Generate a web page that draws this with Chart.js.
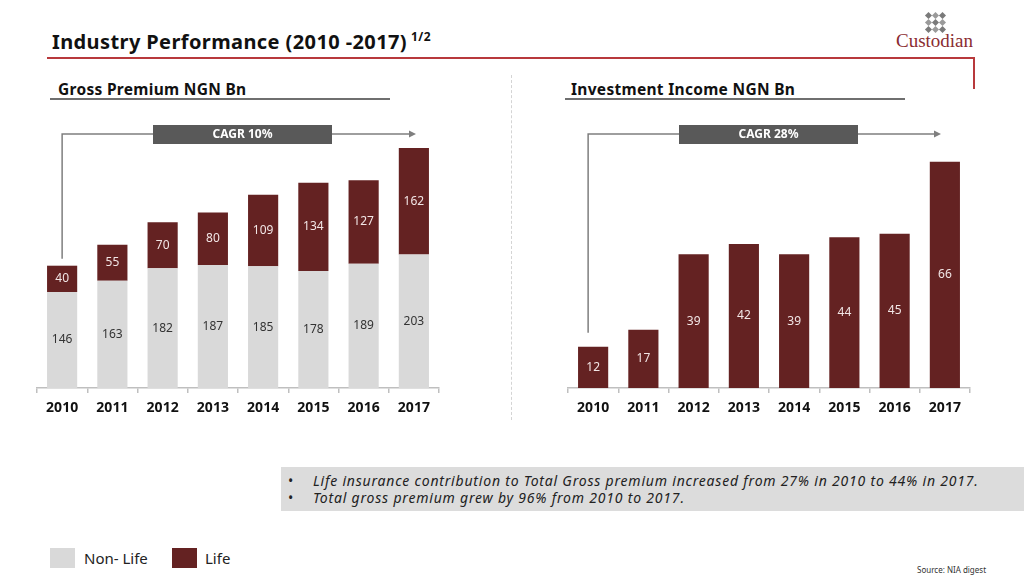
<!DOCTYPE html>
<html>
<head>
<meta charset="utf-8">
<script src="https://cdn.jsdelivr.net/npm/chart.js@4"></script>
<style>
  body { margin: 0; width: 1024px; height: 578px; overflow: hidden; background: #fff; font-family: "Noto Sans", sans-serif; position: relative; }
  .abs { position: absolute; }
  #title { left: 52px; top: 28px; font-size: 20px; font-weight: 700; color: #111; white-space: nowrap; letter-spacing: 0.4px; }
  #title sup { font-size: 12px; vertical-align: 8px; margin-left: 4px; }
  #redH { left: 47px; top: 57px; width: 928px; height: 2px; background: #b8393c; }
  #redV { left: 973px; top: 57px; width: 2px; height: 32px; background: #b8393c; }
  .sub { font-size: 15.5px; font-weight: 700; color: #111; white-space: nowrap; letter-spacing: 0.3px; }
  .subline { height: 0; border-top: 2px solid #6f6f6f; }
  #sep { left: 511px; top: 75px; height: 345px; border-left: 1px dashed #d4d4d4; }
  canvas { position: absolute; }
  #notes { left: 281px; top: 467px; width: 743px; height: 44px; background: #dcdcdc; }
  #notes div { position: absolute; left: 7px; font-size: 14px; font-style: italic; color: #222; white-space: nowrap; letter-spacing: 0.8px; }
  #notes span { display: inline-block; width: 25px; font-style: normal; letter-spacing: 0; }
  .sw { width: 25px; height: 20px; }
  .lg { font-size: 15px; color: #222; }
  #src { left: 917px; top: 564px; font-size: 8px; color: #333; }
  #logo { left: 896px; top: 30px; font-family: "Liberation Serif", serif; font-size: 19px; color: #8a2c31; }
  .dot { position: absolute; width: 5px; height: 5px; background: #7a7a7a; transform: rotate(45deg); }
</style>
</head>
<body>
<div id="title" class="abs">Industry Performance (2010 -2017)<sup>1/2</sup></div>
<div id="redH" class="abs"></div>
<div id="redV" class="abs"></div>

<div id="logoMark" class="abs" style="left:925px;top:12px;width:22px;height:22px;"></div>
<div id="logo" class="abs">Custodian</div>

<div class="abs sub" style="left:58px;top:78px;">Gross Premium NGN Bn</div>
<div class="abs subline" style="left:50px;top:98px;width:340px;"></div>
<div class="abs sub" style="left:571px;top:78px;">Investment Income NGN Bn</div>
<div class="abs subline" style="left:565px;top:98px;width:340px;"></div>
<div id="sep" class="abs"></div>

<canvas id="gp" width="512" height="330" style="left:0;top:100px;width:512px;height:330px;"></canvas>
<canvas id="ii" width="512" height="330" style="left:512px;top:100px;width:512px;height:330px;"></canvas>

<div id="notes" class="abs">
  <div style="top:4px;"><span>•</span>Life insurance contribution to Total Gross premium increased from 27% in 2010 to 44% in 2017.</div>
  <div style="top:21px;"><span>•</span>Total gross premium grew by 96% from 2010 to 2017.</div>
</div>

<div class="abs sw" style="left:50px;top:548px;background:#d9d9d9;"></div>
<div class="abs lg" style="left:84px;top:548px;">Non- Life</div>
<div class="abs sw" style="left:172px;top:548px;background:#642222;"></div>
<div class="abs lg" style="left:205px;top:548px;">Life</div>
<div id="src" class="abs">Source: NIA digest</div>

<script>
// data
const years = ["2010", "2011", "2012", "2013", "2014", "2015", "2016", "2017"];
const nonLife = [146, 163, 182, 187, 185, 178, 189, 203];
const life = [40, 55, 70, 80, 109, 134, 127, 162];
const investIncome = [12, 17, 39, 42, 39, 44, 45, 66];

const MAROON = "#642222";
const LIGHT = "#d9d9d9";

// logo mark
const mark = document.getElementById("logoMark");
[[0,0],[0,2],[1,1],[2,0],[2,2],[0,1],[1,0],[1,2],[2,1]].forEach(([r, c]) => {
  const d = document.createElement("div");
  d.className = "dot";
  d.style.left = (c * 7 + 1) + "px";
  d.style.top = (r * 7 + 1) + "px";
  if ((r + c) % 2 == 1) d.style.background = "#9a9a9a";
  mark.appendChild(d);
});

// numbers inside the bars
const barLabels = {
  id: "barLabels",
  afterDatasetsDraw(chart) {
    const ctx = chart.ctx;
    ctx.save();
    ctx.font = "12px 'Noto Sans'";
    ctx.textAlign = "center";
    ctx.textBaseline = "middle";
    chart.data.datasets.forEach((ds, i) => {
      const meta = chart.getDatasetMeta(i);
      ctx.fillStyle = ds.labelColor;
      meta.data.forEach((bar, j) => {
        ctx.fillText(ds.data[j], bar.x, (bar.y + bar.base) / 2);
      });
    });
    ctx.restore();
  }
};

// CAGR arrow + box
const cagrArrow = {
  id: "cagrArrow",
  afterDraw(chart, args, o) {
    const ctx = chart.ctx;
    const metas = chart.getSortedVisibleDatasetMetas();
    const first = metas[metas.length - 1].data[0];
    const x0 = first.x + (o.dx || 0);
    const y0 = first.y - o.gap;
    ctx.save();
    ctx.strokeStyle = "#7f7f7f";
    ctx.lineWidth = 1.5;
    ctx.beginPath();
    ctx.moveTo(x0, y0);
    ctx.lineTo(x0, o.y);
    ctx.lineTo(o.endX - 6, o.y);
    ctx.stroke();
    ctx.fillStyle = "#7f7f7f";
    ctx.beginPath();
    ctx.moveTo(o.endX, o.y);
    ctx.lineTo(o.endX - 7, o.y - 3.5);
    ctx.lineTo(o.endX - 7, o.y + 3.5);
    ctx.closePath();
    ctx.fill();
    ctx.fillStyle = "#595959";
    ctx.fillRect(o.boxL, o.y - 9, o.boxR - o.boxL, 19);
    ctx.fillStyle = "#fff";
    ctx.font = "bold 12px 'Noto Sans'";
    ctx.textAlign = "center";
    ctx.textBaseline = "middle";
    ctx.fillText(o.label, (o.boxL + o.boxR) / 2, o.y + 1);
    ctx.restore();
  }
};

function xScale() {
  return {
    stacked: true,
    offset: true,
    afterFit: s => { s.height = 42; },
    border: { display: true, color: "#bfbfbf", width: 1.5 },
    grid: { display: true, drawOnChartArea: false, offset: true, tickLength: 5, color: "#bfbfbf", lineWidth: 1.5 },
    ticks: { color: "#111", padding: 7, font: { family: "Noto Sans", size: 14, weight: "bold" } }
  };
}

new Chart(document.getElementById("gp"), {
  type: "bar",
  data: {
    labels: years,
    datasets: [
      { label: "Non- Life", data: nonLife, backgroundColor: LIGHT, labelColor: "#333" },
      { label: "Life", data: life, backgroundColor: MAROON, labelColor: "#f2e6e6" }
    ]
  },
  options: {
    responsive: false,
    animation: false,
    layout: { padding: { left: 37, right: 73, top: 0, bottom: 0 } },
    datasets: { bar: { barPercentage: 0.6, categoryPercentage: 1 } },
    scales: {
      x: xScale(),
      y: { stacked: true, display: false, min: 0, max: 438 }
    },
    plugins: {
      legend: { display: false },
      tooltip: { enabled: false },
      cagrArrow: { label: "CAGR 10%", gap: 7, y: 34, endX: 416, boxL: 153, boxR: 332 }
    }
  },
  plugins: [barLabels, cagrArrow]
});

new Chart(document.getElementById("ii"), {
  type: "bar",
  data: {
    labels: years,
    datasets: [
      { label: "Investment Income", data: investIncome, backgroundColor: MAROON, labelColor: "#f2e6e6" }
    ]
  },
  options: {
    responsive: false,
    animation: false,
    layout: { padding: { left: 56, right: 54, top: 0, bottom: 0 } },
    datasets: { bar: { barPercentage: 0.6, categoryPercentage: 1 } },
    scales: {
      x: xScale(),
      y: { display: false, min: 0, max: 84 }
    },
    plugins: {
      legend: { display: false },
      tooltip: { enabled: false },
      cagrArrow: { label: "CAGR 28%", gap: 14, dx: -5, y: 34, endX: 429, boxL: 167, boxR: 346 }
    }
  },
  plugins: [barLabels, cagrArrow]
});
</script>
</body>
</html>
